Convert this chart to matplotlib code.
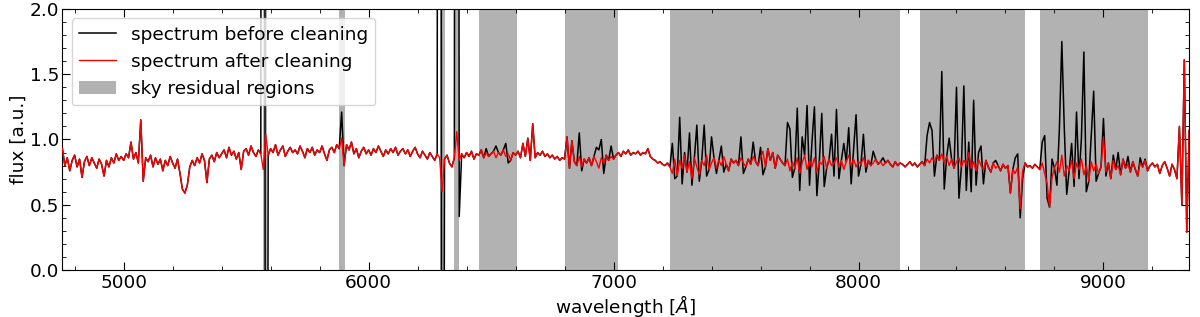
import numpy as np
import matplotlib
matplotlib.use("Agg")
import matplotlib.pyplot as plt

# wavelength grid of the spectrum (Angstrom), 10 A sampling
wave_start = 4750
wave_step = 10

# flux after cleaning, one row per 100 A
flux_clean = [
    0.93, 0.80, 0.86, 0.76, 0.84,                                # 4750
    0.88, 0.79, 0.85, 0.71, 0.83, 0.87, 0.80, 0.86, 0.82, 0.78,  # 4800
    0.85, 0.81, 0.72, 0.84, 0.79, 0.86, 0.82, 0.89, 0.84, 0.87,  # 4900
    0.84, 0.89, 0.86, 0.98, 0.85, 0.90, 0.82, 1.15, 0.68, 0.86,  # 5000
    0.83, 0.88, 0.79, 0.86, 0.81, 0.85, 0.76, 0.84, 0.80, 0.87,  # 5100
    0.82, 0.78, 0.85, 0.74, 0.62, 0.59, 0.65, 0.79, 0.84, 0.80,  # 5200
    0.86, 0.82, 0.89, 0.84, 0.67, 0.85, 0.88, 0.83, 0.90, 0.86,  # 5300
    0.89, 0.92, 0.86, 0.94, 0.88, 0.91, 0.85, 0.90, 0.77, 0.91,  # 5400
    0.93, 0.88, 0.95, 0.90, 0.87, 0.92, 0.89, 0.77, 1.04, 0.88,  # 5500
    0.93, 0.90, 0.96, 0.88, 0.92, 0.95, 0.87, 0.91, 0.94, 0.90,  # 5600
    0.92, 0.89, 0.95, 0.91, 0.86, 0.93, 0.90, 0.94, 0.88, 0.92,  # 5700
    0.90, 0.95, 0.89, 0.84, 0.92, 0.94, 0.90, 0.96, 0.93, 1.01,  # 5800
    0.80, 0.96, 0.92, 0.98, 0.89, 0.93, 0.86, 0.91, 0.94, 0.89,  # 5900
    0.92, 0.88, 0.93, 0.90, 0.95, 0.91, 0.87, 0.92, 0.89, 0.93,  # 6000
    0.90, 0.94, 0.88, 0.91, 0.93, 0.89, 0.92, 0.87, 0.91, 0.94,  # 6100
    0.89, 0.86, 0.91, 0.88, 0.85, 0.90, 0.87, 0.84, 0.89, 0.86,  # 6200
    0.60, 0.85, 0.88, 0.82, 0.79, 0.86, 1.06, 0.84, 0.89, 0.86,  # 6300
    0.90, 0.87, 0.91, 0.85, 0.89, 0.88, 0.92, 0.86, 0.90, 0.87,  # 6400
    0.89, 0.91, 0.86, 0.90, 0.88, 0.92, 0.87, 0.89, 0.84, 0.90,  # 6500
    0.88, 0.91, 0.86, 0.97, 0.87, 1.01, 0.84, 1.12, 0.86, 0.90,  # 6600
    0.88, 0.91, 0.87, 0.89, 0.86, 0.88, 0.85, 0.87, 0.84, 0.86,  # 6700
    0.85, 1.02, 0.78, 0.99, 0.83, 0.80, 0.87, 0.79, 0.85, 0.82,  # 6800
    0.86, 0.80, 0.87, 0.83, 0.78, 0.86, 0.82, 0.88, 0.84, 0.87,  # 6900
    0.85, 0.88, 0.90, 0.87, 0.91, 0.89, 0.92, 0.88, 0.90, 0.89,  # 7000
    0.91, 0.88, 0.90, 0.89, 0.93, 0.87, 0.85, 0.84, 0.82, 0.83,  # 7100
    0.81, 0.80, 0.82, 0.79, 0.74, 0.85, 0.72, 0.84, 0.78, 0.88,  # 7200
    0.75, 0.83, 0.70, 0.86, 0.79, 0.73, 0.84, 0.80, 0.88, 0.77,  # 7300
    0.82, 0.86, 0.78, 0.84, 0.80, 0.87, 0.81, 0.76, 0.85, 0.82,  # 7400
    0.84, 0.80, 0.86, 0.82, 0.79, 0.85, 0.81, 0.87, 0.83, 0.80,  # 7500
    0.86, 0.91, 0.79, 0.93, 0.84, 0.90, 0.78, 0.88, 0.85, 0.82,  # 7600
    0.80, 0.85, 0.76, 0.83, 0.78, 0.86, 0.74, 0.82, 0.88, 0.77,  # 7700
    0.84, 0.79, 0.86, 0.75, 0.83, 0.81, 0.87, 0.78, 0.85, 0.80,  # 7800
    0.82, 0.86, 0.79, 0.84, 0.77, 0.83, 0.88, 0.80, 0.85, 0.79,  # 7900
    0.83, 0.81, 0.86, 0.79, 0.84, 0.80, 0.82, 0.85, 0.81, 0.83,  # 8000
    0.80, 0.82, 0.84, 0.81, 0.79, 0.83, 0.80, 0.82, 0.81, 0.79,  # 8100
    0.81, 0.83, 0.80, 0.82, 0.79, 0.81, 0.83, 0.80, 0.85, 0.82,  # 8200
    0.86, 0.83, 0.88, 0.84, 0.89, 0.82, 0.87, 0.80, 0.85, 0.78,  # 8300
    0.83, 0.86, 0.79, 0.84, 0.81, 0.90, 0.78, 0.83, 0.76, 0.85,  # 8400
    0.80, 0.77, 0.84, 0.79, 0.75, 0.82, 0.78, 0.80, 0.76, 0.81,  # 8500
    0.78, 0.80, 0.59, 0.77, 0.74, 0.79, 0.47, 0.76, 0.82, 0.79,  # 8600
    0.80, 0.78, 0.81, 0.79, 0.77, 0.82, 0.74, 0.66, 0.48, 0.71,  # 8700
    0.78, 0.83, 0.75, 0.88, 0.72, 0.80, 0.76, 0.84, 0.70, 0.82,  # 8800
    0.77, 0.85, 0.73, 0.80, 0.68, 0.83, 0.76, 0.81, 0.74, 0.79,  # 8900
    1.02, 0.75, 0.82, 0.70, 0.84, 0.77, 0.80, 0.73, 0.85, 0.78,  # 9000
    0.81, 0.75, 0.83, 0.77, 0.72, 0.82, 0.79, 0.84, 0.76, 0.80,  # 9100
    0.82, 0.79, 0.81, 0.74, 0.80, 0.83, 0.78, 0.72, 0.81, 0.77,  # 9200
    0.70, 1.10, 0.50, 1.61, 0.29, 1.07,                          # 9300
]

# points where the spectrum before cleaning differs (sky lines / residuals)
sky_wave = [5570, 5580, 5890, 6290, 6300, 6360, 6370,
            6480, 6520, 6560, 6570,
            6860, 6870, 6930, 6940, 6950, 6960, 6990,
            7240, 7250, 7270, 7280, 7290, 7310, 7320, 7340, 7350, 7370,
            7380, 7400, 7420, 7440, 7450, 7520, 7530, 7570, 7600, 7610,
            7710, 7720, 7730, 7750, 7760, 7770, 7790, 7800, 7810, 7820,
            7830, 7850, 7860, 7890, 7900, 7910, 7920, 7940, 7960, 7970,
            7980, 7990, 8000, 8020, 8030, 8060, 8100,
            8280, 8290, 8300, 8310, 8340, 8350, 8370, 8400, 8410, 8430,
            8440, 8450, 8460, 8470, 8480, 8490, 8500, 8510, 8560, 8640,
            8650, 8660, 8670,
            8750, 8760, 8770, 8790, 8810, 8820, 8830, 8840, 8850, 8870,
            8880, 8890, 8900, 8910, 8920, 8930, 8950, 8960, 8970, 9000,
            9010, 9040, 9060, 9100, 9150, 9170]
sky_flux = [30.0, -10.0, 1.21, 25.0, -8.0, 20.0, 0.41,
            0.93, 0.95, 0.97, 0.82,
            1.05, 0.76, 0.94, 0.92, 1.00, 0.74, 0.95,
            0.97, 0.70, 1.17, 0.66, 0.90, 1.05, 0.65, 1.11, 0.68, 1.11,
            0.72, 1.02, 0.74, 0.95, 0.75, 1.02, 0.74, 0.98, 0.94, 0.73,
            1.13, 1.08, 0.71, 1.24, 0.61, 1.02, 1.26, 0.65, 0.98, 1.25,
            0.57, 1.20, 0.64, 1.04, 0.72, 1.23, 0.70, 0.97, 1.09, 0.66,
            0.92, 1.19, 0.72, 1.04, 0.75, 0.91, 0.86,
            1.03, 1.13, 1.07, 0.72, 1.52, 0.62, 1.01, 1.40, 0.55, 1.41,
            0.61, 0.98, 0.60, 1.30, 0.65, 0.90, 0.95, 0.66, 0.84, 0.86,
            0.89, 0.40, 0.70,
            0.98, 1.03, 0.55, 0.85, 0.65, 1.08, 1.75, 1.09, 0.58, 0.97,
            0.64, 1.21, 0.70, 1.01, 1.67, 0.60, 1.03, 1.37, 0.68, 1.16,
            0.72, 0.88, 0.90, 0.87, 0.86, 0.85]

# sky residual regions (Angstrom)
region_lo = [5570, 5880, 6290, 6350, 6450, 6800, 7230, 8250, 8740]
region_hi = [5585, 5905, 6310, 6370, 6605, 7020, 8170, 8680, 9180]

wave = wave_start + wave_step * np.arange(len(flux_clean))
flux_after = np.array(flux_clean)
flux_before = flux_after.copy()
for w, f in zip(sky_wave, sky_flux):
    flux_before[wave == w] = f

plt.rcParams['font.size'] = 13.3
fig = plt.figure(figsize=(12, 3.17), dpi=100)
ax = fig.add_axes([0.052, 0.148, 0.939, 0.824])

for i in range(len(region_lo)):
    ax.axvspan(region_lo[i], region_hi[i], color='grey', alpha=0.6, lw=0,
               label='sky residual regions' if i == 0 else None, zorder=0)
ax.plot(wave, flux_before, color='black', lw=1.1, label='spectrum before cleaning', zorder=2)
ax.plot(wave, flux_after, color='red', lw=1.0, label='spectrum after cleaning', zorder=3)

ax.set_xlim(4750, 9350)
ax.set_ylim(0, 2.0)
ax.set_xlabel(r'wavelength [$\AA$]', labelpad=1)
ax.set_ylabel('flux [a.u.]', labelpad=1)
ax.set_xticks([5000, 6000, 7000, 8000, 9000])
ax.set_xticks(np.arange(4800, 9351, 200), minor=True)
ax.set_yticks([0.0, 0.5, 1.0, 1.5, 2.0])
ax.set_yticks(np.arange(0, 2.01, 0.1), minor=True)
ax.tick_params(which='both', direction='in', top=True, right=True)
ax.tick_params(which='major', length=6, pad=2.5)
ax.tick_params(which='minor', length=3)

handles, labels = ax.get_legend_handles_labels()
order = [labels.index('spectrum before cleaning'), labels.index('spectrum after cleaning'),
         labels.index('sky residual regions')]
ax.legend([handles[i] for i in order], [labels[i] for i in order], loc='upper left', fontsize=13.3)

fig.savefig('out.png', dpi=100)
